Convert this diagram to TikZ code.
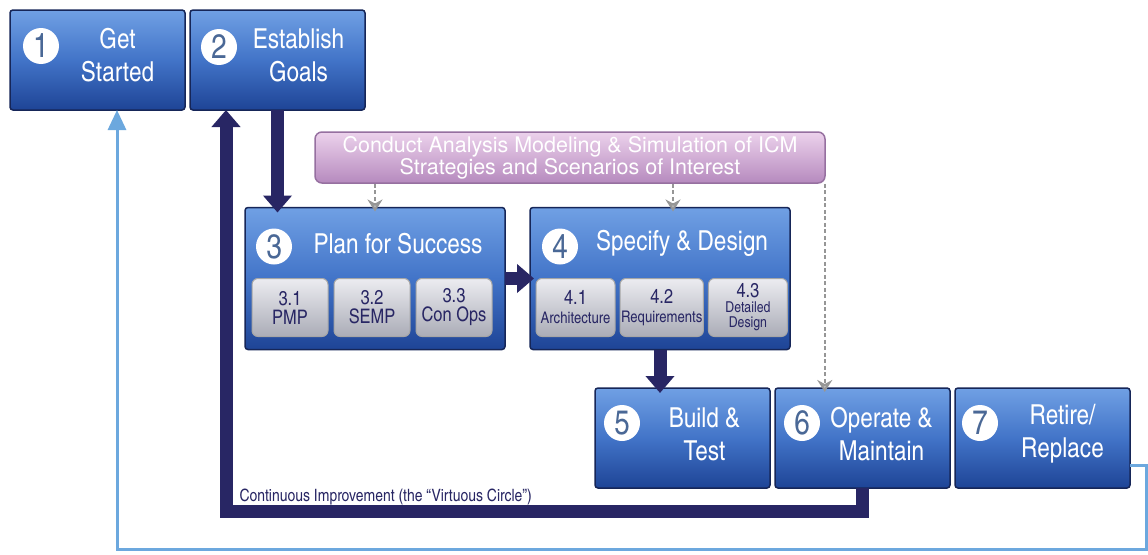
\documentclass[tikz,border=0pt]{standalone}
\usepackage{fontspec}
\setmainfont{TeX Gyre Heros}
\newfontfamily\condensed{texgyreheroscn-regular.otf}
\usepackage{tikz}
\usetikzlibrary{arrows.meta, positioning}
\definecolor{phasetop}{RGB}{112, 160, 228}
\definecolor{phasemid}{RGB}{66, 116, 200}
\definecolor{phasebot}{RGB}{30, 68, 150}
\definecolor{phaseedge}{RGB}{22, 38, 88}
\definecolor{navy}{RGB}{40, 38, 100}
\definecolor{numblue}{RGB}{74, 104, 150}
\definecolor{subtop}{RGB}{236, 236, 240}
\definecolor{subbot}{RGB}{170, 172, 182}
\definecolor{plumtop}{RGB}{236, 210, 236}
\definecolor{plumbot}{RGB}{182, 138, 190}
\definecolor{plumedge}{RGB}{150, 112, 160}
\definecolor{skyline}{RGB}{108, 168, 222}
\definecolor{dashgrey}{RGB}{150, 150, 150}

\begin{document}
\begin{tikzpicture}[
    x=1pt, y=-1pt,
    phase/.style={rectangle, draw=phaseedge, line width=1.5pt, rounded corners=3pt,
                  top color=phasetop, bottom color=phasebot, middle color=phasemid,
                  minimum width=175pt, minimum height=100pt, inner sep=0pt, outer sep=0pt},
    bigphase/.style={phase, minimum width=260pt, minimum height=142pt},
    phaselabel/.style={text=white, align=center, inner sep=1pt, font=\condensed\fontsize{27.5}{33}\selectfont},
    numdot/.style={circle, fill=white, minimum size=36pt, inner sep=0pt,
                   text=numblue, font=\condensed\fontsize{34}{34}\selectfont},
    substep/.style={rectangle, rounded corners=6pt, draw=gray!70, line width=1pt,
                    top color=subtop, bottom color=subbot, minimum width=76pt, minimum height=58pt,
                    inner sep=1pt, outer sep=0pt, align=center, text=navy,
                    font=\condensed\fontsize{20}{19}\selectfont},
    flow/.style={draw=navy, line width=13pt, line join=miter, -{Triangle[width=28pt, length=17pt]}},
    skyflow/.style={draw=skyline, line width=3pt, -{Triangle[width=18pt, length=20pt]}},
    feed/.style={draw=dashgrey, line width=2pt, dash pattern=on 4pt off 2.5pt,
                 -{Stealth[width=15pt, length=12pt, inset=4pt, fill=lightgray]}}
]
\useasboundingbox[fill=white] (0,0) rectangle (1148,554);

% Phases
\node[phase] (getstarted) at (97.5,60) {};
\node[phase, right=5pt of getstarted] (goals) {};
\node[rectangle, draw=plumedge, line width=1.5pt, rounded corners=7pt,
      top color=plumtop, bottom color=plumbot, minimum width=510pt, minimum height=51pt,
      align=center, text=white, font=\fontsize{21.5}{20}\selectfont] (analysis) at (570,157.5)
      {Conduct Analysis Modeling \& Simulation of ICM\\Strategies and Scenarios of Interest};
\node[bigphase] (plan) at (375,278.5) {};
\node[bigphase, right=25pt of plan] (design) {};
\node[phase] (build) at (682.5,438) {};
\node[phase, right=5pt of build] (operate) {};
\node[phase, right=5pt of operate] (retire) {};

% Sub steps
\node[substep] (pmp) at (290,307.5) {3.1\\PMP};
\node[substep, right=6pt of pmp] (semp) {3.2\\SEMP};
\node[substep, right=6pt of semp] (conops) {3.3\\Con Ops};
\node[substep, minimum width=79pt] (arch) at (575.5,307.5) {4.1\\{\fontsize{16}{16}\selectfont Architecture}};
\node[substep, minimum width=79pt, right=5pt of arch] (req) {4.2\\{\fontsize{16}{16}\selectfont Requirements}};
\node[substep, minimum width=79pt, right=5pt of req] (detail)
      {4.3\\[-4pt]{\fontsize{15}{14}\selectfont Detailed}\\[-4pt]{\fontsize{15}{14}\selectfont Design}};

% Numbers and titles
\node[numdot] (num1) at ([xshift=31pt, yshift=14pt]getstarted.west) {1};
\node[phaselabel] (startedtext) at ([xshift=20pt, yshift=5pt]getstarted.center) {Get\\Started};
\node[numdot] (num2) at ([xshift=29pt, yshift=13pt]goals.west) {2};
\node[phaselabel] (goalstext) at ([xshift=21pt, yshift=5pt]goals.center) {Establish\\Goals};
\node[numdot] (num3) at ([xshift=29pt, yshift=32pt]plan.west) {3};
\node[phaselabel] (plantext) at ([xshift=23pt, yshift=35pt]plan.center) {Plan for Success};
\node[numdot] (num4) at ([xshift=30pt, yshift=32pt]design.west) {4};
\node[phaselabel] (designtext) at ([xshift=22pt, yshift=35pt]design.center) {Specify \& Design};
\node[numdot] (num5) at ([xshift=27pt, yshift=15pt]build.west) {5};
\node[phaselabel] (buildtext) at ([xshift=22pt, yshift=4pt]build.center) {Build \&\\Test};
\node[numdot] (num6) at ([xshift=27pt, yshift=15pt]operate.west) {6};
\node[phaselabel] (operatetext) at ([xshift=19pt, yshift=4pt]operate.center) {Operate \&\\Maintain};
\node[numdot] (num7) at ([xshift=25pt, yshift=15pt]retire.west) {7};
\node[phaselabel] (retiretext) at ([xshift=20pt, yshift=4pt]retire.center) {Retire/\\Replace};

% Arrows
\draw[flow] (goals.south) -- ([yshift=-5pt]goals.south |- plan.north);
\draw[flow] (plan.east) -- ([xshift=4pt]design.west);
\draw[flow] (design.south) -- ([yshift=-5pt]design.south |- build.north);
\draw[flow] (operate.south) -- ++(0,23) -| ([xshift=-51.5pt]goals.south);
\node[anchor=west, text=navy, font=\condensed\fontsize{17}{17}\selectfont] (loopnote) at (236,497)
      {Continuous Improvement (the “Virtuous Circle”)};
\draw[skyflow] ([yshift=-27pt]retire.east) -- ++(16,0) -- ++(0,84) -| ([xshift=19.5pt]getstarted.south);

% Analysis feeds
\draw[feed] (analysis.south -| plan.north) -- ([yshift=-4pt]plan.north);
\draw[feed] ([xshift=13pt]analysis.south -| design.north) -- ([xshift=13pt, yshift=-4pt]design.north);
\draw[feed] ([xshift=-1pt]analysis.south east) -- ([xshift=-1pt, yshift=-4pt]analysis.south east |- operate.north);

\end{tikzpicture}
\end{document}
